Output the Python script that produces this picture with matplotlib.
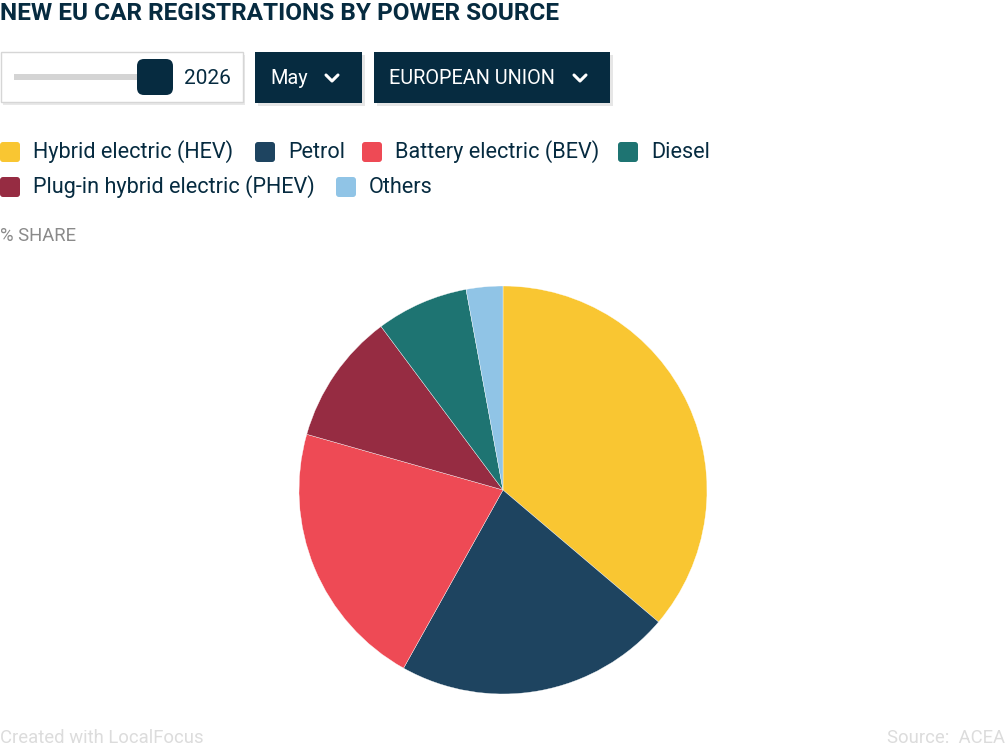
import matplotlib
matplotlib.use("Agg")
import matplotlib.pyplot as plt
from matplotlib.patches import FancyBboxPatch, Rectangle

plt.rcParams['font.family'] = ['Roboto', 'DejaVu Sans']

# data
labels = ["Hybrid electric (HEV)", "Petrol", "Battery electric (BEV)",
          "Plug-in hybrid electric (PHEV)", "Diesel", "Others"]
shares = [36.2, 21.9, 21.3, 10.4, 7.3, 2.9]
colors = ["#F9C632", "#1E4460", "#EE4A55", "#962C42", "#1E7472", "#90C4E6"]

legend_order = ["Hybrid electric (HEV)", "Petrol", "Battery electric (BEV)", "Diesel",
                "Plug-in hybrid electric (PHEV)", "Others"]

NAVY = "#062B40"
W, H = 1007, 748

fig = plt.figure(figsize=(W / 100, H / 100), dpi=100)

# full-figure axes in pixel coords for the header / legend / footer
bg = fig.add_axes([0, 0, 1, 1])
bg.set_xlim(0, W)
bg.set_ylim(H, 0)
bg.axis('off')

bg.text(0, 13, "NEW EU CAR REGISTRATIONS BY POWER SOURCE", fontsize=17.6, fontweight='bold',
        color=NAVY, ha='left', va='center')

# slider control
bg.add_patch(Rectangle((3, 55), 242, 50, facecolor="#e8e8e8", edgecolor='none'))
bg.add_patch(Rectangle((1, 52), 242, 50, facecolor="white", edgecolor="#d6d6d6", lw=1))
bg.add_patch(Rectangle((14, 74), 130, 6, facecolor="#d4d4d4", edgecolor='none'))
bg.add_patch(FancyBboxPatch((141, 63), 28, 28, boxstyle="round,pad=4,rounding_size=7",
                            facecolor=NAVY, edgecolor='none'))
bg.text(184, 78, "2026", fontsize=15, color=NAVY, ha='left', va='center')

# dropdowns
for x0, x1, txt in [(255, 362, "May"), (374, 610, "EUROPEAN UNION")]:
    bg.add_patch(Rectangle((x0 + 3, 55), x1 - x0, 51, facecolor="#e6e6e6", edgecolor='none'))
    bg.add_patch(Rectangle((x0, 52), x1 - x0, 51, facecolor=NAVY, edgecolor='none'))
    bg.text(x0 + 15, 78, txt, fontsize=14.3, color="white", ha='left', va='center')
    cx = x1 - 30
    bg.plot([cx - 6, cx, cx + 6], [75, 81, 75], color="white", lw=2.2, solid_capstyle='round')

# legend
legend_pos = [(0, 152), (255, 152), (362, 152), (618, 152), (0, 187), (336, 187)]
for name, (lx, ly) in zip(legend_order, legend_pos):
    c = colors[labels.index(name)]
    bg.add_patch(FancyBboxPatch((lx + 2, ly - 8), 16, 16, boxstyle="round,pad=2,rounding_size=3",
                                facecolor=c, edgecolor='none'))
    bg.text(lx + 33, ly, name, fontsize=15.6, color=NAVY, ha='left', va='center')

bg.text(0, 236, "% SHARE", fontsize=13.3, color="#8a8a8a", ha='left', va='center')

# footer
bg.text(0, 738, "Created with LocalFocus", fontsize=13.3, color="#dcdcdc", ha='left', va='center')
bg.text(1005, 738, "Source:  ACEA", fontsize=13.3, color="#dcdcdc", ha='right', va='center')

# pie
cx, cy, r = 503, 490, 204
pax = fig.add_axes([(cx - r) / W, (H - cy - r) / H, 2 * r / W, 2 * r / H])
pax.pie(shares, colors=colors, startangle=90, counterclock=False, radius=1,
        wedgeprops=dict(edgecolor='white', linewidth=0.25))
pax.set_xlim(-1, 1)
pax.set_ylim(-1, 1)
pax.axis('off')

fig.savefig("out.png", dpi=100)
